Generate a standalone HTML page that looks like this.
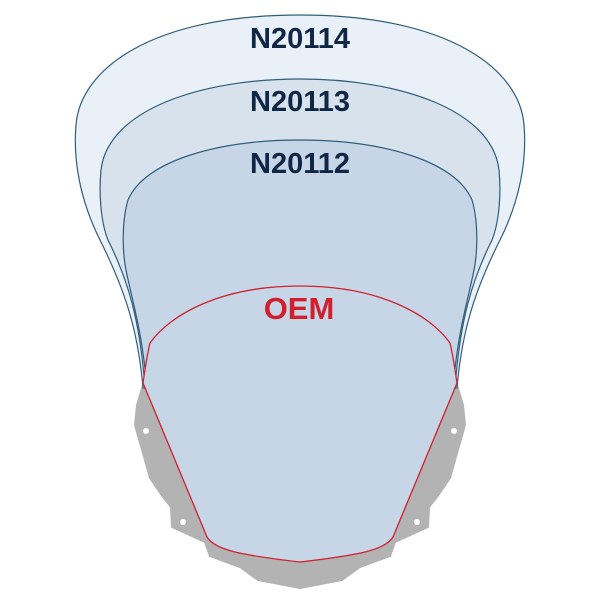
<!DOCTYPE html>
<html><head><meta charset="utf-8"><style>html,body{margin:0;padding:0;background:#fff}svg{display:block}</style></head>
<body>
<svg width="600" height="600" viewBox="0 0 600 600" xmlns="http://www.w3.org/2000/svg">
<path d="M143,385 L137,405 L135,425 L150,478 L163,497 L171,507 L172,527 L205,542 L210,556 L240,567 L258,580 L300,588 L342,580 L360,567 L390,556 L395,542 L428,527 L429,507 L437,497 L450,478 L465,425 L463,405 L457,385 Z" fill="#b3b3b3" stroke="#b3b3b3" stroke-width="2" stroke-linejoin="round"/>
<circle cx="146" cy="431" r="3" fill="#fff"/><circle cx="454" cy="431" r="3" fill="#fff"/>
<circle cx="183" cy="522" r="3" fill="#fff"/><circle cx="417" cy="522" r="3" fill="#fff"/>
<path d="M143,388 C138,330 125,290 100,240 C80,200 73,160 76,125 C80,70 150,15 300,15 C450,15 520,70 524,125 C527,160 520,200 500,240 C475,290 462,330 457,388 Z" fill="#e9f0f7" stroke="#2f5d7c" stroke-width="1.2"/>
<path d="M145,388 C140,320 128,280 108,240 C100,220 99,190 101,170 C108,110 200,79 300,79 C400,79 492,110 499,170 C501,190 500,220 492,240 C472,280 460,320 455,388 Z" fill="#d7e2ed" stroke="#2f5d7c" stroke-width="1.2"/>
<path d="M147,388 C142,330 132,300 126,270 C122,250 122,220 128,200 C145,160 220,140 300,140 C380,140 455,160 472,200 C478,220 478,250 474,270 C468,300 458,330 453,388 Z" fill="#c6d6e7" stroke="#2f5d7c" stroke-width="1.2"/>
<path d="M143,383 L207,537 C215,550 240,555 300,562 C360,555 385,550 393,537 L457,383 C455,370 453,355 450,343 C430,315 380,286 300,286 C220,286 170,315 150,343 C147,355 145,370 143,383 Z" fill="#c6d6e7" stroke="#d0202e" stroke-width="1.3"/>
<g font-family="Liberation Sans, sans-serif" font-weight="bold" font-size="29" text-anchor="middle" fill="#0f2745">
<text x="300" y="48">N20114</text>
<text x="300" y="111">N20113</text>
<text x="300" y="173">N20112</text>
<text x="299" y="319" fill="#d0202e" font-size="31">OEM</text>
</g>
</svg>
</body></html>
